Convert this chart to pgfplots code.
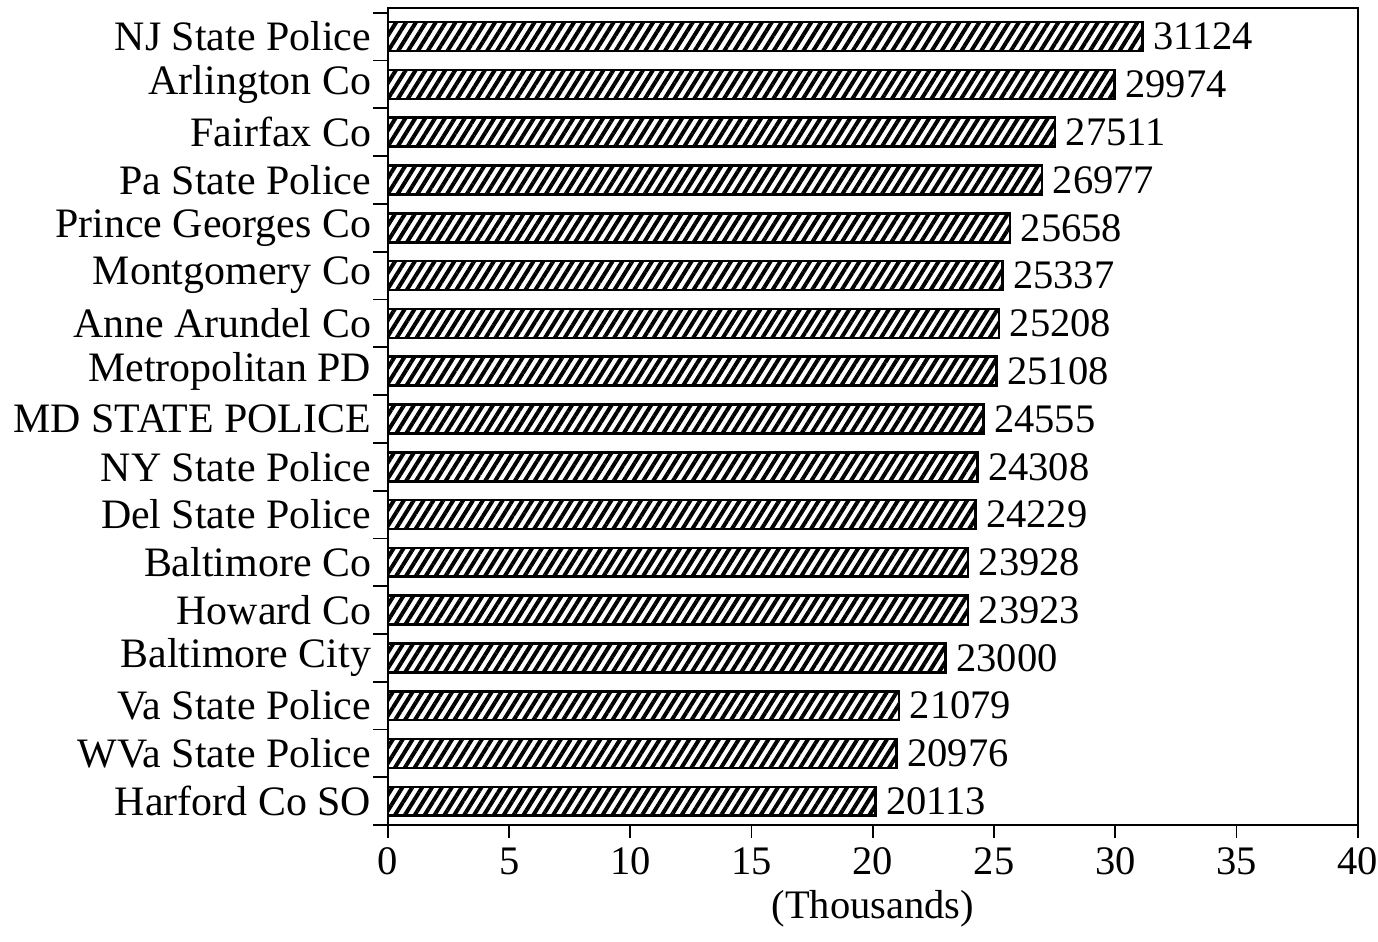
\documentclass[border=0pt]{standalone}
\usepackage{fontspec}
\setmainfont{Liberation Serif}
\usepackage{pgfplots}
\usepackage{pgfplotstable}
\pgfplotsset{compat=1.18}
\usetikzlibrary{patterns.meta}
\pgfplotstableread[col sep=comma]{
y,x,lab
0,20.113,20113
1,20.976,20976
2,21.079,21079
3,23.000,23000
4,23.923,23923
5,23.928,23928
6,24.229,24229
7,24.308,24308
8,24.555,24555
9,25.108,25108
10,25.208,25208
11,25.337,25337
12,25.658,25658
13,26.977,26977
14,27.511,27511
15,29.974,29974
16,31.124,31124
}\datatable
\begin{document}
\fontsize{20.3}{24}\selectfont
\begin{tikzpicture}
\begin{axis}[
  scale only axis, width=486pt, height=409.5pt,
  xbar, bar width=14.5pt, bar shift=0pt,
  xmin=0, xmax=40, ymin=-0.5, ymax=16.6,
  xtick={0,5,...,40},
  ytick={0,...,16},
  yticklabels={Harford Co SO,WVa State Police,Va State Police,Baltimore City,Howard Co,Baltimore Co,Del State Police,NY State Police,MD STATE POLICE,Metropolitan PD,Anne Arundel Co,Montgomery Co,Prince Georges Co,Pa State Police,Fairfax Co,Arlington Co,NJ State Police},
  minor ytick={-0.5,0.5,...,16.5},
  every major y tick/.style={draw=none},
  tick align=outside,
  major tick length=6.5pt,
  minor tick length=7.5pt,
  tick style={black, line width=0.9pt},
  axis line style={line width=1pt},
  xtick pos=bottom, ytick pos=left,
  /pgf/number format/assume math mode=true,
  yticklabel style={xshift=5pt, font=\fontsize{21}{24}\selectfont},
  xticklabel style={yshift=2pt, inner xsep=0pt},
  xlabel={(Thousands)},
  xlabel style={yshift=6pt},
  point meta=explicit symbolic,
  nodes near coords,
  every node near coord/.append style={anchor=west, xshift=-2pt, font=\fontsize{20.3}{24}\selectfont},
]
\addplot[draw=black, line width=1.3pt, pattern={Lines[angle=58,distance=4.2pt,line width=2pt]}]
  table[x=x, y=y, meta=lab] {\datatable};
\end{axis}
\path ([yshift=4pt]current axis.north);
\end{tikzpicture}
\end{document}
